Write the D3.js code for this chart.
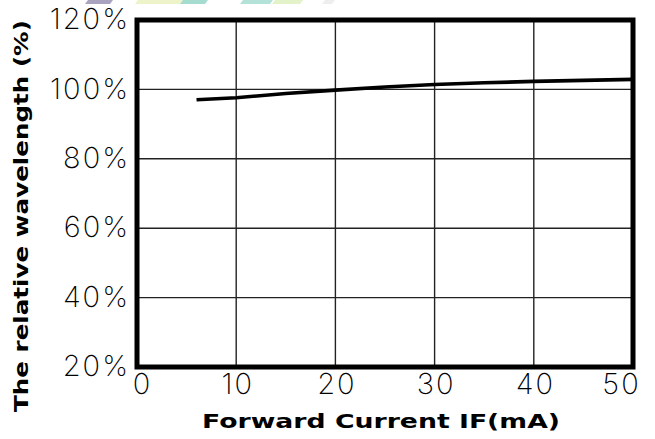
<!DOCTYPE html>
<html><head><meta charset="utf-8">
<script src="https://cdn.jsdelivr.net/npm/d3@7/dist/d3.min.js"></script>
<style>body{margin:0;background:#fff}</style>
</head><body>
<script>
const currentIF = [6, 10, 15, 20, 25, 30, 35, 40, 45, 50];
const relWavelength = [97.0, 97.6, 98.8, 99.8, 100.7, 101.4, 101.9, 102.3, 102.6, 102.9];
const xTicks = [0, 10, 20, 30, 40, 50];
const yTicks = [20, 40, 60, 80, 100, 120];
const xTitle = "Forward Current IF(mA)";
const yTitle = "The relative wavelength (%)";

const W = 655, H = 439;
const m = {l: 137, r: 22, t: 20, b: 72};
const svg = d3.select("body").append("svg").attr("width", W).attr("height", H);
const x = d3.scaleLinear().domain([0, 50]).range([m.l, W - m.r]);
const y = d3.scaleLinear().domain([20, 120]).range([H - m.b, m.t]);

// faint watermark strokes at top edge
const wm = [[85, 110, "#a9a3bf"], [135, 200, "#eef3c9"], [180, 205, "#a6dcd0"], [240, 270, "#b5e2d8"], [272, 300, "#e3f2c8"], [322, 332, "#eeeeee"]];
svg.append("g").selectAll("path").data(wm).join("path")
  .attr("d", d => `M${d[0] + 3},0L${d[1] + 3},0L${d[1]},4L${d[0]},4Z`).attr("fill", d => d[2]);

// grid
svg.append("g").selectAll("line").data(xTicks.slice(1, -1)).join("line")
  .attr("x1", d => x(d)).attr("x2", d => x(d)).attr("y1", y(120)).attr("y2", y(20))
  .attr("stroke", "#222").attr("stroke-width", 1.4);
svg.append("g").selectAll("line").data(yTicks.slice(1, -1)).join("line")
  .attr("x1", x(0)).attr("x2", x(50)).attr("y1", d => y(d)).attr("y2", d => y(d))
  .attr("stroke", "#222").attr("stroke-width", 1.4);

// data line
svg.append("path").datum(currentIF.map((c, i) => [c, relWavelength[i]]))
  .attr("d", d3.line().x(d => x(d[0])).y(d => y(d[1])))
  .attr("fill", "none").attr("stroke", "#000").attr("stroke-width", 3.6);

// frame
svg.append("rect").attr("x", x(0)).attr("y", y(120)).attr("width", x(50) - x(0)).attr("height", y(20) - y(120))
  .attr("fill", "none").attr("stroke", "#000").attr("stroke-width", 5);

const tickFont = sel => sel.attr("font-family", "Inter").attr("font-weight", 200)
  .attr("font-size", 29).attr("letter-spacing", 2).attr("fill", "#000");

const yAxis = d3.axisLeft(y).tickValues(yTicks).tickFormat(d => d + "%").tickSize(0).tickPadding(2);
const gy = svg.append("g").attr("transform", `translate(${x(0) - 5},0)`).call(yAxis);
gy.select(".domain").remove();
gy.selectAll("text").call(tickFont).attr("dy", "0.3em");

const xAxis = d3.axisBottom(x).tickValues(xTicks).tickSize(0).tickPadding(0);
const gx = svg.append("g").attr("transform", `translate(0,${y(20) + 17})`).call(xAxis);
gx.select(".domain").remove();
gx.selectAll("text").call(tickFont).attr("dy", "0.35em").attr("dx", d => d === 0 ? 5 : (d === 50 ? -12 : 1));

svg.append("text").attr("x", 381).attr("y", 428).attr("text-anchor", "middle")
  .attr("font-family", "DejaVu Sans").attr("font-weight", "bold").attr("font-size", 19)
  .attr("textLength", 358).attr("lengthAdjust", "spacingAndGlyphs").text(xTitle);
svg.append("text").attr("transform", "translate(28,216) rotate(-90)").attr("text-anchor", "middle")
  .attr("font-family", "DejaVu Sans").attr("font-weight", "bold").attr("font-size", 19)
  .attr("textLength", 392).attr("lengthAdjust", "spacingAndGlyphs").text(yTitle);
</script>
</body></html>
